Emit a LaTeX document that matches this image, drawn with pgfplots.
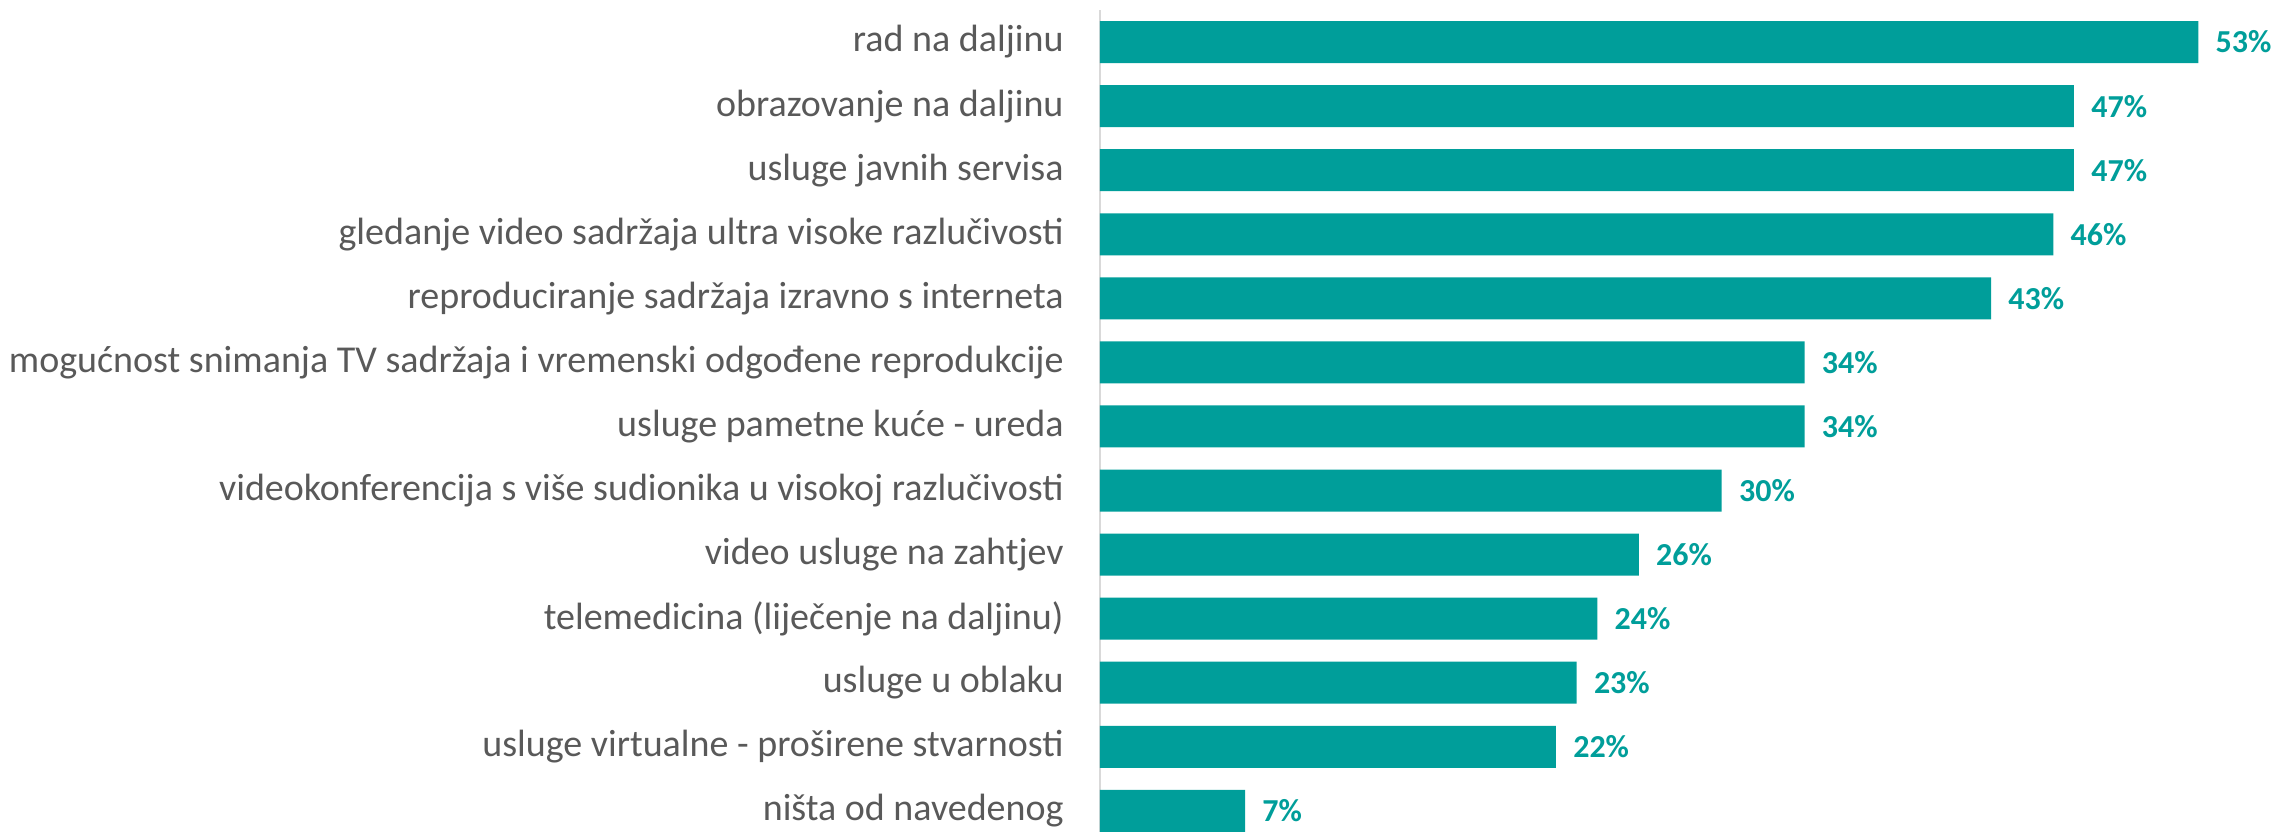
\documentclass[border=0pt]{standalone}
\usepackage{fontspec}
\setmainfont{Carlito}
\usepackage{pgfplots}
\pgfplotsset{compat=1.18}
\definecolor{barc}{RGB}{0,158,154}
\definecolor{txt}{RGB}{89,89,89}
\definecolor{axl}{RGB}{217,217,217}
\begin{document}
\begin{tikzpicture}
\begin{axis}[
  at={(0,0)}, anchor=south west,
  scale only axis, width=587.5pt, height=411pt,
  xmin=0, xmax=56.7, ymin=-0.5, ymax=12.33, y dir=reverse,
  xbar, bar width=21pt,
  hide x axis,
  axis y line*=left,
  y axis line style={draw=axl, line width=1pt},
  ytick={0,1,2,3,4,5,6,7,8,9,10,11,12},
  yticklabels={
    rad na daljinu,
    obrazovanje na daljinu,
    usluge javnih servisa,
    gledanje video sadržaja ultra visoke razlučivosti,
    reproduciranje sadržaja izravno s interneta,
    {mogućnost snimanja TV sadržaja i vremenski odgođene reprodukcije\hspace{4.5pt}},
    usluge pametne kuće - ureda,
    videokonferencija s više sudionika u visokoj razlučivosti,
    video usluge na zahtjev,
    telemedicina (liječenje na daljinu),
    usluge u oblaku,
    usluge virtualne - proširene stvarnosti,
    ništa od navedenog},
  major tick length=0pt,
  ytick style={draw=none},
  yticklabel style={font=\fontsize{19}{22}\selectfont, text=txt, anchor=east, inner sep=0pt, xshift=-18pt},
  nodes near coords={\pgfplotspointmeta\%},
  point meta=explicit symbolic,
  nodes near coords style={font=\bfseries\fontsize{16}{19}\selectfont, text=barc, anchor=west, inner sep=0pt, xshift=8.5pt},
]
\addplot[fill=barc, draw=none] table[meta=v] {
x y v
53 0 53
47 1 47
47 2 47
46 3 46
43 4 43
34 5 34
34 6 34
30 7 30
26 8 26
24 9 24
23 10 23
22 11 22
7 12 7
};
\end{axis}
\pgfresetboundingbox
\useasboundingbox (-550pt,0) rectangle (587.5pt,416pt);
\end{tikzpicture}
\end{document}
